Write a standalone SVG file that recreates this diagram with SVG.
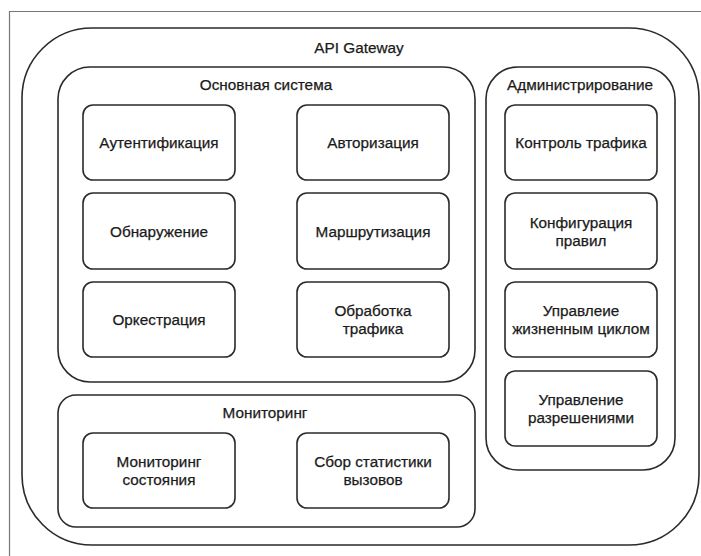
<svg xmlns="http://www.w3.org/2000/svg" width="701" height="556" viewBox="0 0 701 556">
<style>
.grp{fill:none;stroke:#2a2a2a;stroke-width:1.6}
.box{fill:#fff;stroke:#2a2a2a;stroke-width:1.6}
text{font-family:"Liberation Sans",Arial,sans-serif;font-size:15.3px;fill:#1a1a1a;stroke:#1a1a1a;stroke-width:0.25;text-anchor:middle;dominant-baseline:central}
</style>
<rect width="701" height="556" fill="#fff"/>
<path d="M9.5 556 V11.5 H701" fill="none" stroke="#777" stroke-width="1.2"/>
<g id="api-gateway">
<rect class="grp" x="22" y="28" width="677" height="517" rx="70" ry="70"/>
<text x="359" y="47">API Gateway</text>
</g>
<g id="core">
<rect class="grp" x="58" y="67" width="417" height="315" rx="32" ry="32"/>
<text x="266" y="84">Основная система</text>
</g>
<g id="n-auth"><rect class="box" x="83" y="105" width="152" height="75" rx="10"/><text x="159" y="142.5">Аутентификация</text></g>
<g id="n-authz"><rect class="box" x="297" y="105" width="152" height="75" rx="10"/><text x="373" y="142.5">Авторизация</text></g>
<g id="n-disc"><rect class="box" x="83" y="193" width="152" height="76" rx="10"/><text x="159" y="231">Обнаружение</text></g>
<g id="n-route"><rect class="box" x="297" y="193" width="152" height="76" rx="10"/><text x="373" y="231">Маршрутизация</text></g>
<g id="n-orch"><rect class="box" x="83" y="282" width="152" height="75" rx="10"/><text x="159" y="319.5">Оркестрация</text></g>
<g id="n-traffic"><rect class="box" x="297" y="282" width="152" height="75" rx="10"/><text x="373" y="310">Обработка</text><text x="373" y="328">трафика</text></g>
<g id="admin">
<rect class="grp" x="486" y="67" width="189" height="403" rx="32" ry="32"/>
<text x="580" y="84">Администрирование</text>
</g>
<g id="n-tc"><rect class="box" x="505" y="105" width="152" height="75" rx="10"/><text x="581" y="142.5">Контроль трафика</text></g>
<g id="n-cfg"><rect class="box" x="505" y="193" width="152" height="76" rx="10"/><text x="581" y="222">Конфигурация</text><text x="581" y="240">правил</text></g>
<g id="n-life"><rect class="box" x="505" y="282" width="152" height="75" rx="10"/><text x="581" y="310">Управлеие</text><text x="581" y="328">жизненным циклом</text></g>
<g id="n-perm"><rect class="box" x="505" y="371" width="152" height="75" rx="10"/><text x="581" y="399">Управление</text><text x="581" y="417">разрешениями</text></g>
<g id="monitoring">
<rect class="grp" x="58" y="395" width="417" height="132" rx="18" ry="18"/>
<text x="265" y="412">Мониторинг</text>
</g>
<g id="n-health"><rect class="box" x="83" y="433" width="152" height="75" rx="10"/><text x="159" y="461">Мониторинг</text><text x="159" y="479">состояния</text></g>
<g id="n-stats"><rect class="box" x="297" y="433" width="152" height="75" rx="10"/><text x="373" y="461">Сбор статистики</text><text x="373" y="479">вызовов</text></g>
<g id="connectors"></g>
</svg>
